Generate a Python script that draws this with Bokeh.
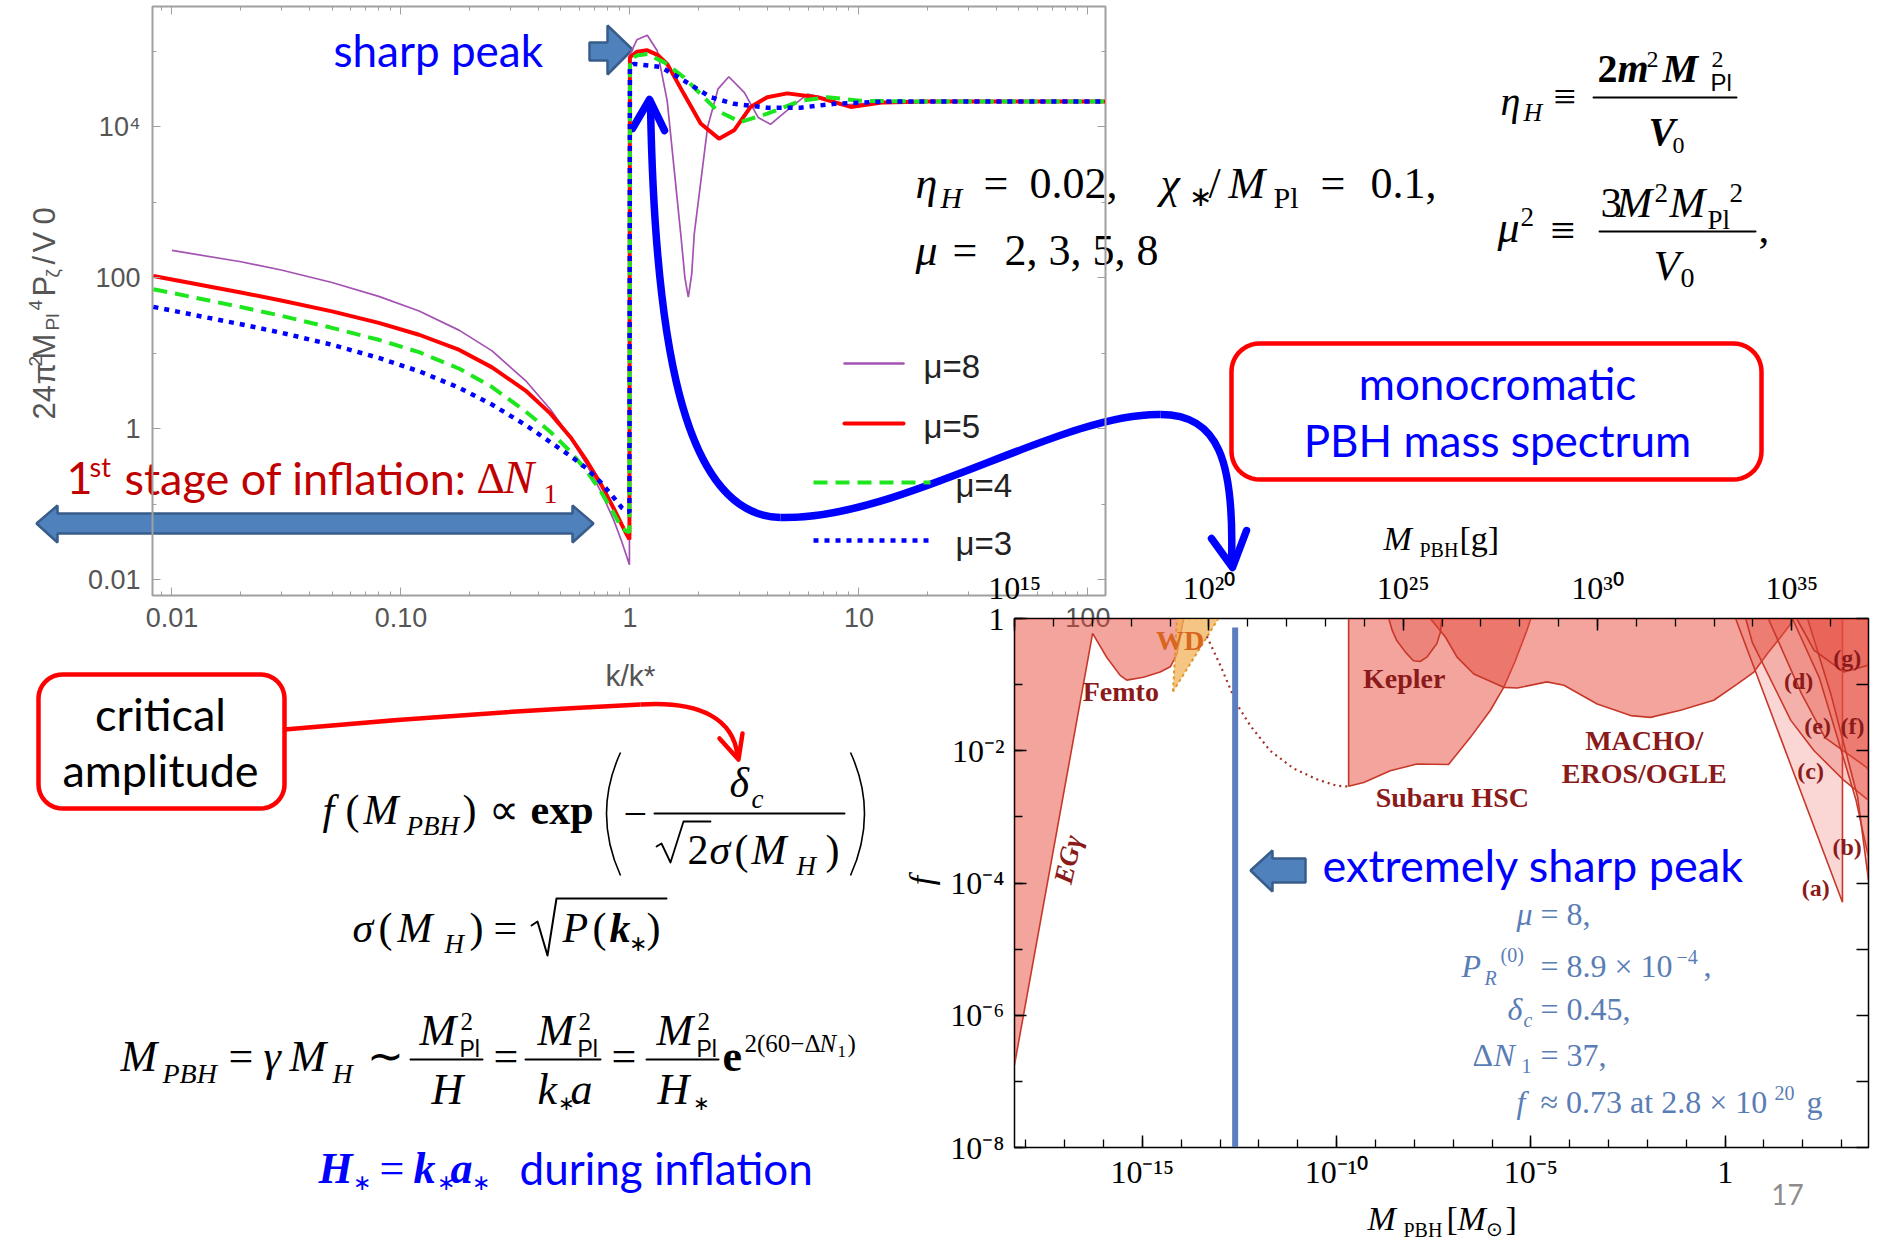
import numpy as np
from bokeh.plotting import figure
from bokeh.models import (Range1d, LogAxis, FixedTicker, CustomJSTickFormatter, GridBox)
from bokeh.layouts import column
from bokeh.embed import file_html
from bokeh.resources import INLINE
from bokeh.core.properties import value

# ---------------- data: top-left panel  (k/k*, 24 pi^2 Mpl^4 P_zeta / V0) ----------------
k_left = [0.0083, 0.01, 0.02, 0.03, 0.05, 0.08, 0.12, 0.18, 0.25, 0.35, 0.45, 0.55, 0.65, 0.75, 0.85, 0.92, 0.97, 0.995]
k8_left = [0.01, 0.02, 0.03, 0.05, 0.08, 0.12, 0.18, 0.25, 0.35, 0.45, 0.55, 0.65, 0.75, 0.85, 0.92, 0.97, 0.995]
P8_left = [229, 162, 126, 86, 56.4, 36.1, 20.0, 10.7, 4.33, 1.79, 0.759, 0.327, 0.143, 0.0614, 0.0322, 0.020, 0.0157]
P5_left = [104.7, 94.4, 63.5, 49.8, 35.7, 25.1, 17.5, 11.0, 6.47, 3.19, 1.58, 0.769, 0.367, 0.180, 0.0875, 0.054,
           0.0393, 0.0341]
P4_left = [70.2, 62.7, 40.7, 31.2, 21.6, 15.0, 10.3, 6.21, 3.55, 1.69, 0.904, 0.495, 0.270, 0.144, 0.0755, 0.0484,
           0.0436, 0.0425]
P3_left = [40.9, 36.6, 24.1, 18.6, 12.9, 8.63, 5.75, 3.47, 2.08, 1.117, 0.659, 0.433, 0.294, 0.191, 0.122, 0.0902,
           0.0811, 0.078]

k8_peak = [1.0, 1.072, 1.191, 1.318, 1.455, 1.667, 1.738, 1.799, 1.862, 1.910, 2.183, 2.427, 2.704, 3.162,
           3.631, 4.111, 4.786, 5.957, 7.079, 8.318, 10.0, 15.85, 120]
P8_peak = [89100, 141000, 162000, 100000, 21900, 380, 100, 55, 112, 380, 9770, 31600, 45700, 28200,
           13200, 10700, 15800, 26900, 24000, 19100, 20000, 21400, 21400]
k5_peak = [1.0, 1.072, 1.191, 1.318, 1.455, 1.722, 2.037, 2.449, 2.851, 3.365, 3.981, 4.864, 6.577, 9.204,
           12.82, 19.95, 120]
P5_peak = [83200, 97700, 102300, 89100, 67600, 26900, 11000, 6920, 8910, 18200, 24500, 27500, 24500, 18200,
           20900, 21400, 21400]
k4_peak = [1.0, 1.072, 1.191, 1.413, 1.722, 2.410, 3.041, 3.981, 5.559, 7.278, 10.16, 19.95, 120]
P4_peak = [75900, 87100, 91200, 70800, 44700, 16200, 11500, 14800, 21900, 24500, 21900, 21400, 21400]
k3_peak = [1.0, 1.04, 1.361, 1.722, 2.249, 2.851, 3.981, 5.559, 7.798, 12.59, 120]
P3_peak = [63100, 67600, 61700, 40700, 24500, 20000, 17800, 17800, 20000, 21400, 21400]

series_labels = ["μ=8", "μ=5", "μ=4", "μ=3"]
kx_ticks = [0.01, 0.1, 1, 10, 100]
py_ticks = [0.01, 1, 100, 1e4]

# ---------------- data: bottom-right panel (M_PBH [M_sun], f) ----------------
egf_M = [5.13e-19, 5.25e-17, 1.22e-16, 2.69e-16, 3.98e-16, 1.07e-15, 2.88e-15, 5.25e-15, 7.76e-15, 1.15e-14, 5.13e-19]
egf_f = [1.78e-7, 0.596, 0.257, 0.138, 0.117, 0.129, 0.155, 0.186, 0.288, 1.0, 1.0]
wd_M = [6.17e-15, 7.8e-15, 9.1e-14]
wd_f = [0.079, 1.0, 1.0]
hscdot_M = [4.57e-14, 1e-13, 2.69e-13, 6.0e-13, 1.95e-12, 7.8e-12, 3.1e-11, 1.02e-10, 2.04e-10]
hscdot_f = [0.537, 0.2, 0.051, 0.024, 0.01, 0.0054, 0.0037, 0.00295, 0.00288]
hsc_M = [2.04e-10, 5.0e-10, 2.4e-9, 1.17e-8, 7.6e-8, 2.75e-7, 9.1e-7, 2.0e-6, 3.98e-6, 7.9e-6, 1.0e-5, 2.04e-10]
hsc_f = [0.0029, 0.0033, 0.005, 0.0063, 0.0062, 0.0158, 0.041, 0.091, 0.23, 0.66, 1.0, 1.0]
kep_M = [2.2e-9, 2.7e-9, 3.5e-9, 5.9e-9, 9.5e-9, 1.41e-8, 2.1e-8, 3.1e-8, 3.8e-8, 4.7e-8, 5.1e-8]
kep_f = [1.0, 0.66, 0.47, 0.31, 0.23, 0.224, 0.26, 0.355, 0.417, 0.62, 1.0]
macho_M = [2.57e-8, 6.3e-8, 1.26e-7, 3.4e-7, 2.0e-6, 4.5e-6, 2.6e-5, 7.1e-5, 5.1e-4, 3.7e-3, 0.012, 0.071,
           0.51, 2.04, 5.5, 12.3, 26.9, 49, 53.7]
macho_f = [1.0, 0.525, 0.26, 0.145, 0.091, 0.089, 0.11, 0.098, 0.051, 0.034, 0.032, 0.041,
           0.058, 0.102, 0.155, 0.295, 0.525, 0.83, 1.0]
ra_M = [1.86, 1047, 1047]
ra_f = [1.0, 5.1e-5, 1.0]
rc_M = [3.39, 5.0, 49, 195, 1148, 4900, 4900]
rc_f = [1.0, 0.436, 0.0288, 0.01, 0.00355, 0.00178, 1.0]
rd_M = [12.9, 93, 372, 4365, 4900, 4900]
rd_f = [1.0, 0.0724, 0.0158, 0.00562, 0.005, 1.0]
rf_M = [53.7, 263, 776, 2344, 4677, 4900, 4900]
rf_f = [1.0, 0.129, 0.0158, 0.00178, 2.75e-4, 2.6e-4, 1.0]
rb_M = [132, 525, 2570, 4900, 4900]
rb_f = [1.0, 0.0724, 0.002, 1.1e-4, 1.0]
rg_M = [69, 195, 1148, 4571, 4900, 4900]
rg_f = [1.0, 0.331, 0.155, 0.195, 0.229, 1.0]
peak_M = [2.45e-13, 2.45e-13]
peak_f = [1e-8, 0.73]
LOG_GRAM_PER_MSUN = 33.285   # top axis: grams = M_sun * 10**33.285 (as drawn in the picture)

W, H = 1878, 1245

# ======================= A : full-window annotation canvas =======================
A = figure(width=W, height=H, x_range=Range1d(0, W), y_range=Range1d(H, 0),
           toolbar_location=None, output_backend="svg", min_border=0,
           x_axis_location=None, y_axis_location=None)
A.grid.visible = False
A.outline_line_color = None
A.background_fill_color = "white"
A.border_fill_color = "white"

SERIF = "Liberation Serif"
SANS = "Liberation Sans"
CAL = "Lato"
BLUE = "#0000FF"
DRED = "#C00000"
BASE_FIX = 0.3   # alphabetic-baseline correction (fraction of font size)


def T(s, x, y, size, color="black", font=SERIF, style="normal", align="left", base="alphabetic", angle=0, fig=None):
    if base == "alphabetic":
        if angle == 90:
            x -= BASE_FIX * size
        else:
            y -= BASE_FIX * size
    (fig or A).text(x=[x], y=[y], text=[s], text_font=value(font), text_font_size=value(f"{size}px"),
                    text_color=color, text_font_style=style, text_align=align, text_baseline=base,
                    angle=angle, angle_units="deg")


def L(xs, ys, color="black", w=2, dash="solid"):
    A.line(x=xs, y=ys, line_color=color, line_width=w, line_dash=dash, line_cap="round", line_join="round")


def rrect(x0, y0, x1, y1, r, n=12):
    xs, ys = [], []
    for cx, cy, a0 in [(x1 - r, y0 + r, -90), (x1 - r, y1 - r, 0), (x0 + r, y1 - r, 90), (x0 + r, y0 + r, 180)]:
        for a in np.linspace(a0, a0 + 90, n):
            xs.append(cx + r * np.cos(np.radians(a)))
            ys.append(cy + r * np.sin(np.radians(a)))
    return xs, ys

# --- block arrows
A.patch([589, 607, 607, 632, 607, 607, 589], [42, 42, 25, 49, 74, 60, 60],
        fill_color="#4F81BD", line_color="#385D8A", line_width=2.5)
A.patch([36, 57, 57, 572, 572, 593, 572, 572, 57, 57], [523, 505, 513, 513, 505, 523, 542, 533, 533, 542],
        fill_color="#4F81BD", line_color="#385D8A", line_width=2.5)
A.patch([1250, 1272, 1272, 1305, 1305, 1272, 1272], [870, 850, 858, 858, 882, 882, 891],
        fill_color="#4F81BD", line_color="#385D8A", line_width=2.5)

# --- slide texts
T("sharp peak", 333, 63, 44, BLUE, CAL)
T("1", 66, 491, 45, DRED, CAL)
T("st", 89, 474, 27, DRED, CAL)
T("stage of inflation:", 124, 491, 45, DRED, CAL)
T("Δ", 476, 491, 44, DRED, SERIF)
T("N", 503, 491, 46, DRED, SERIF, "italic")
T("1", 543, 502, 28, DRED, SERIF)

T("extremely sharp peak", 1322, 878, 45, BLUE, CAL)
T("17", 1787, 1194, 28, "#8C8C8C", CAL, align="center", base="middle")

xs, ys = rrect(1231, 343, 1761, 479, 28)
A.patch(xs, ys, fill_color=None, line_color="#FF0000", line_width=4.5)
T("monocromatic", 1497, 396, 44, BLUE, CAL, align="center")
T("PBH mass spectrum", 1497, 453, 44, BLUE, CAL, align="center")

xs, ys = rrect(38, 674, 284, 808, 24)
A.patch(xs, ys, fill_color=None, line_color="#FF0000", line_width=4.5)
T("critical", 160, 727, 45, "black", CAL, align="center")
T("amplitude", 160, 783, 45, "black", CAL, align="center")

A.quadratic(x0=[284], y0=[729], x1=[640], y1=[704], cx=[460], cy=[713], line_color="#FF0000", line_width=4.5)
A.bezier(x0=[640], y0=[704], x1=[737], y1=[755], cx0=[702], cy0=[700], cx1=[733], cy1=[720],
         line_color="#FF0000", line_width=4.5)
L([719, 738, 742], [738, 759, 733], "#FF0000", 4.5)

for (x0, y0, c0x, c0y, c1x, c1y, x1, y1) in [(650, 104, 654, 330, 680, 515, 780, 517),
                                              (780, 517, 900, 520, 1060, 412, 1160, 414),
                                              (1160, 414, 1218, 414, 1234, 460, 1231, 562)]:
    A.bezier(x0=[x0], y0=[y0], x1=[x1], y1=[y1], cx0=[c0x], cy0=[c0y], cx1=[c1x], cy1=[c1y],
             line_color=BLUE, line_width=7.5)
L([632, 649, 664], [128, 99, 130], BLUE, 7.5)
L([1211, 1232, 1246], [538, 567, 530], BLUE, 7.5)

# --- top-right definitions
T("η", 1500, 113, 40, "black", SERIF, "italic")
T("H", 1523, 120, 26, "black", SERIF, "italic")
T("≡", 1553, 108, 40)
L([1593, 1736], [97, 97], "black", 2)
T("2", 1597, 80, 40, "black", SERIF, "bold")
T("m", 1617, 80, 40, "black", SERIF, "bold italic")
T("2", 1646, 66, 24)
T("M", 1662, 80, 40, "black", SERIF, "bold italic")
T("2", 1711, 66, 24)
T("Pl", 1710, 89, 24, "black", SANS)
T("V", 1648, 143, 40, "black", SERIF, "bold italic")
T("0", 1672, 152, 24)

T("μ", 1497, 240, 44, "black", SERIF, "italic")
T("2", 1520, 225, 27)
T("≡", 1550, 243, 44)
L([1599, 1755], [231, 231], "black", 2)
T("3", 1600, 215, 43)
T("M", 1616, 215, 43, "black", SERIF, "italic")
T("2", 1654, 201, 27)
T("M", 1669, 215, 43, "black", SERIF, "italic")
T("2", 1729, 201, 27)
T("Pl", 1707, 228, 27)
T("V", 1653, 278, 43, "black", SERIF, "italic")
T("0", 1680, 286, 28)
T(",", 1758, 240, 43)

T("η", 915, 196, 44, "black", SERIF, "italic")
T("H", 940, 206, 30, "black", SERIF, "italic")
T("=", 983, 196, 44)
T("0.02,", 1029, 196, 44)
T("χ", 1160, 196, 44, "black", SERIF, "italic")
T("∗", 1188, 204, 28)
T("/", 1208, 196, 44)
T("M", 1228, 196, 44, "black", SERIF, "italic")
T("Pl", 1273, 206, 30)
T("=", 1320, 196, 44)
T("0.1,", 1370, 196, 44)
T("μ", 915, 263, 44, "black", SERIF, "italic")
T("=", 952, 263, 44)
T("2, 3, 5, 8", 1004, 263, 44)

# --- lower-left formulas
T("f", 322, 822, 42, "black", SERIF, "italic")
T("(", 345, 822, 42)
T("M", 363, 822, 42, "black", SERIF, "italic")
T("PBH", 406, 834, 27, "black", SERIF, "italic")
T(")", 462, 822, 42)
T("∝", 488, 822, 42)
T("exp", 530, 822, 42, "black", SERIF, "bold")
A.quadratic(x0=[620], y0=[752], x1=[620], y1=[875], cx=[592], cy=[813], line_color="black", line_width=1.6)
A.quadratic(x0=[850], y0=[752], x1=[850], y1=[875], cx=[878], cy=[813], line_color="black", line_width=1.6)
T("−", 623, 826, 42)
L([654, 844], [813, 813], "black", 2)
T("δ", 729, 795, 42, "black", SERIF, "italic")
T("c", 751, 807, 27, "black", SERIF, "italic")
L([656, 661, 670, 683, 710], [846, 843, 862, 821, 821], "black", 1.8)
T("2", 687, 862, 42)
T("σ", 709, 862, 42, "black", SERIF, "italic")
T("(", 734, 862, 42)
T("M", 751, 862, 42, "black", SERIF, "italic")
T("H", 796, 874, 27, "black", SERIF, "italic")
T(")", 825, 862, 42)

T("σ", 352, 940, 42, "black", SERIF, "italic")
T("(", 378, 940, 42)
T("M", 397, 940, 42, "black", SERIF, "italic")
T("H", 444, 952, 27, "black", SERIF, "italic")
T(")", 469, 940, 42)
T("=", 493, 940, 42)
L([531, 537, 547, 556, 666], [925, 921, 955, 898, 898], "black", 2)
T("P", 562, 940, 42, "black", SERIF, "italic")
T("(", 592, 940, 42)
T("k", 609, 940, 42, "black", SERIF, "bold italic")
T("∗", 628, 950, 22)
T(")", 646, 940, 42)

T("M", 120, 1069, 44, "black", SERIF, "italic")
T("PBH", 162, 1081, 28, "black", SERIF, "italic")
T("=", 228, 1069, 44)
T("γ", 263, 1069, 44, "black", SERIF, "italic")
T("M", 289, 1069, 44, "black", SERIF, "italic")
T("H", 332, 1081, 28, "black", SERIF, "italic")
T("∼", 366, 1069, 44)
for (bx0, bx1, mx) in [(410, 482, 419), (525, 600, 537), (646, 718, 656)]:
    L([bx0, bx1], [1059, 1059], "black", 2)
    T("M", mx, 1043, 44, "black", SERIF, "italic")
    T("2", mx + 41, 1028, 25)
    T("Pl", mx + 40, 1055, 23, "black", SANS)
T("H", 431, 1102, 44, "black", SERIF, "italic")
T("=", 493, 1069, 44)
T("k", 537, 1102, 44, "black", SERIF, "italic")
T("∗", 557, 1108, 20)
T("a", 570, 1102, 44, "black", SERIF, "italic")
T("=", 611, 1069, 44)
T("H", 657, 1102, 44, "black", SERIF, "italic")
T("∗", 692, 1108, 20)
T("e", 722, 1069, 44, "black", SERIF, "bold")
T("2(60−Δ", 744, 1050, 25)
T("N", 819, 1050, 25, "black", SERIF, "italic")
T("1", 837, 1056, 17)
T(")", 847, 1050, 25)

T("H", 318, 1181, 44, BLUE, SERIF, "bold italic")
T("∗", 352, 1189, 22, BLUE)
T("=", 379, 1181, 44, BLUE)
T("k", 413, 1181, 44, BLUE, SERIF, "bold italic")
T("∗", 436, 1189, 22, BLUE)
T("a", 450, 1181, 44, BLUE, SERIF, "bold italic")
T("∗", 471, 1189, 22, BLUE)
T("during inflation", 519, 1181, 44, BLUE, CAL)

# --- axis labels (composed math text)
GR = "#555555"
T("k/k*", 630, 675, 30, GR, SANS, align="center", base="middle")
for (s, yy, sz, xb) in [("24", 419, 31, 53), ("π", 384, 31, 53), ("2", 366, 19, 41), ("M", 359, 31, 53),
                        ("Pl", 330, 19, 58), ("4", 310, 19, 41), ("P", 296, 31, 53), ("ζ", 277, 19, 58),
                        ("/", 264, 31, 53), ("V", 252, 31, 53), ("0", 224, 31, 53)]:
    T(s, xb, yy, sz, GR, SANS, angle=90)

T("M", 1383, 548, 34, "black", SERIF, "italic")
T("PBH", 1419, 555, 20)
T("[g]", 1459, 548, 34)
T("M", 1367, 1228, 34, "black", SERIF, "italic")
T("PBH", 1403, 1235, 20)
T("[", 1446, 1228, 34)
T("M", 1457, 1228, 34, "black", SERIF, "italic")
T("⊙", 1485, 1234, 20)
T("]", 1505, 1228, 34)
T("f", 921, 880, 34, "black", SERIF, "italic", align="center", base="middle", angle=90)

# --- parameter block in the lower-right panel
PB = "#5A7DB5"
T("μ", 1516, 923, 32, PB, SERIF, "italic")
T("= 8,", 1540, 923, 32, PB)
T("P", 1461, 975, 32, PB, SERIF, "italic")
T("R", 1484, 983, 20, PB, SERIF, "italic")
T("(0)", 1500, 960, 20, PB)
T("= 8.9 × 10", 1540, 975, 32, PB)
T("−4", 1676, 962, 20, PB)
T(",", 1703, 975, 32, PB)
T("δ", 1507, 1018, 32, PB, SERIF, "italic")
T("c", 1523, 1025, 20, PB, SERIF, "italic")
T("= 0.45,", 1540, 1018, 32, PB)
T("Δ", 1472, 1064, 32, PB)
T("N", 1493, 1064, 32, PB, SERIF, "italic")
T("1", 1521, 1071, 20, PB)
T("= 37,", 1540, 1064, 32, PB)
T("f", 1516, 1111, 32, PB, SERIF, "italic")
T("≈ 0.73 at 2.8 × 10", 1540, 1111, 32, PB)
T("20", 1774, 1098, 20, PB)
T("g", 1806, 1111, 32, PB)

# --- legend of the top-left panel (key lines + labels)
L([844, 903], [363, 363], "#A452B2", 2.5)
L([844, 903], [423, 423], "#FF0000", 4)
A.line(x=[813, 930], y=[482, 482], line_color="#1EE61E", line_width=4, line_dash="14 8")
A.line(x=[813, 930], y=[540, 540], line_color="#0000FF", line_width=4.5, line_dash="5 6")
for lab, lx, ly in zip(series_labels, [923, 923, 955, 955], [366, 426, 485, 543]):
    T(lab, lx, ly, 33, "#222222", SANS, base="middle")

# ======================= B : top-left spectrum panel =======================
B = figure(width=1120, height=720, x_axis_type="log", y_axis_type="log",
           x_range=Range1d(10 ** -2.085, 10 ** 2.077), y_range=Range1d(10 ** -2.21, 10 ** 5.59),
           toolbar_location=None, output_backend="svg",
           min_border_left=152, min_border_right=15, min_border_top=6, min_border_bottom=125)
B.background_fill_color = None
B.border_fill_color = None
B.outline_line_color = "#A0A0A0"
B.outline_line_width = 2
B.grid.visible = False

bx_minor = [m * 10.0 ** e for e in range(-3, 3) for m in range(2, 10)]
by_minor = [10.0 ** e for e in range(-3, 6)]
fmt_bx = CustomJSTickFormatter(code="""
const e = Math.round(Math.log10(tick));
const m = {"-2":"0.01","-1":"0.10","0":"1","1":"10","2":"100"};
return m[String(e)] || " ";""")
fmt_by = CustomJSTickFormatter(code="""
const e = Math.round(Math.log10(tick));
const m = {"-2":"0.01","0":"1","2":"100","4":"10\u2074"};
return m[String(e)] || " ";""")
B.xaxis.ticker = FixedTicker(ticks=kx_ticks, minor_ticks=bx_minor)
B.yaxis.ticker = FixedTicker(ticks=py_ticks, minor_ticks=by_minor)
B.xaxis.formatter = fmt_bx
B.yaxis.formatter = fmt_by
for ax in [B.xaxis[0], B.yaxis[0]]:
    ax.axis_line_color = "#A0A0A0"
    ax.major_tick_line_color = "#A0A0A0"
    ax.minor_tick_line_color = "#A0A0A0"
    ax.major_tick_in = 8
    ax.major_tick_out = 0
    ax.minor_tick_in = 4
    ax.minor_tick_out = 0
    ax.major_label_text_font = SANS
    ax.major_label_text_font_size = "27px"
    ax.major_label_text_color = GR
B.xaxis.major_label_standoff = 12
B.yaxis.major_label_standoff = 12
for loc, tk in [("above", FixedTicker(ticks=kx_ticks, minor_ticks=bx_minor)),
                ("right", FixedTicker(ticks=py_ticks, minor_ticks=by_minor))]:
    ax = LogAxis(ticker=tk, major_label_text_font_size="1px", major_label_text_alpha=0, major_label_standoff=0,
                 axis_line_color="#A0A0A0", major_tick_line_color="#A0A0A0", minor_tick_line_color="#A0A0A0",
                 major_tick_in=8, major_tick_out=0, minor_tick_in=4, minor_tick_out=0)
    B.add_layout(ax, loc)

B.line(k8_left + k8_peak, P8_left + P8_peak, line_color="#A452B2", line_width=1.7)
B.line(k_left + k5_peak, P5_left + P5_peak, line_color="#FF0000", line_width=4)
B.line(k_left + k4_peak, P4_left + P4_peak, line_color="#1EE61E", line_width=4, line_dash="14 8")
B.line(k_left + k3_peak, P3_left + P3_peak, line_color="#0000FF", line_width=4.5, line_dash="5 6")

# ======================= C : bottom-right constraints panel =======================
C = figure(width=W, height=H, x_axis_type="log", y_axis_type="log",
           x_range=Range1d(10 ** -18.29, 10 ** 3.69), y_range=Range1d(1e-8, 1),
           toolbar_location=None, output_backend="svg",
           min_border_left=1014, min_border_right=10, min_border_top=618, min_border_bottom=98)
C.background_fill_color = None
C.border_fill_color = None
C.outline_line_color = "black"
C.outline_line_width = 1.5
C.grid.visible = False

fmt_c = CustomJSTickFormatter(code="""
const e = Math.round(Math.log10(tick));
if (e === 0) { return "1"; }
const m = {"0":"\u2070","1":"\u00b9","2":"\u00b2","3":"\u00b3","4":"\u2074","5":"\u2075","6":"\u2076","7":"\u2077","8":"\u2078","9":"\u2079","-":"\u207b"};
return "10" + String(e).split("").map(c => m[c]).join("");""")
fmt_g = CustomJSTickFormatter(args=dict(off=LOG_GRAM_PER_MSUN), code="""
const e = Math.round(Math.log10(tick) + off);
const m = {"0":"\u2070","1":"\u00b9","2":"\u00b2","3":"\u00b3","4":"\u2074","5":"\u2075","6":"\u2076","7":"\u2077","8":"\u2078","9":"\u2079","-":"\u207b"};
return "10" + String(e).split("").map(c => m[c]).join("");""")


def style_c(ax, standoff, fmt):
    ax.axis_line_color = "black"
    ax.major_tick_line_color = "black"
    ax.minor_tick_line_color = "black"
    ax.major_tick_in = 12
    ax.major_tick_out = 0
    ax.minor_tick_in = 8
    ax.minor_tick_out = 0
    ax.major_tick_line_width = 1.5
    ax.minor_tick_line_width = 1.3
    ax.major_label_text_font = SERIF
    ax.major_label_text_font_size = "32px"
    ax.major_label_text_color = "black"
    ax.major_label_standoff = standoff
    ax.formatter = fmt


C.xaxis.ticker = FixedTicker(ticks=[1e-15, 1e-10, 1e-5, 1], minor_ticks=[10.0 ** e for e in range(-18, 4)])
C.yaxis.ticker = FixedTicker(ticks=[1e-8, 1e-6, 1e-4, 1e-2, 1], minor_ticks=[10.0 ** e for e in range(-8, 1)])
style_c(C.xaxis[0], 6, fmt_c)
style_c(C.yaxis[0], 10, fmt_c)
gram_major = [10.0 ** (n - LOG_GRAM_PER_MSUN) for n in (15, 20, 25, 30, 35)]
gram_minor = [10.0 ** (n - LOG_GRAM_PER_MSUN) for n in range(15, 37)]
topax = LogAxis(ticker=FixedTicker(ticks=gram_major, minor_ticks=gram_minor))
style_c(topax, 13, fmt_g)
C.add_layout(topax, "above")
rax = LogAxis(ticker=FixedTicker(ticks=[10.0 ** e for e in range(-8, 1)]), major_label_text_font_size="1px",
              major_label_text_alpha=0, major_label_standoff=0, major_tick_in=12, major_tick_out=0,
              minor_tick_out=0, major_tick_line_width=1.5)
C.add_layout(rax, "right")

PINK = "#E64A3C"
EDGE = "#C8382A"
C.patch(egf_M, egf_f, fill_color=PINK, fill_alpha=0.5, line_color=EDGE, line_width=1.6)
C.patch(hsc_M, hsc_f, fill_color=PINK, fill_alpha=0.5, line_color=EDGE, line_width=1.6)
C.patch(macho_M, macho_f, fill_color=PINK, fill_alpha=0.5, line_color=EDGE, line_width=1.6)
C.patch(kep_M, kep_f, fill_color=PINK, fill_alpha=0.35, line_color=EDGE, line_width=1.6)
C.patch(ra_M, ra_f, fill_color=PINK, fill_alpha=0.22, line_color=EDGE, line_width=1.6)
for mm, ff in [(rc_M, rc_f), (rd_M, rd_f), (rf_M, rf_f), (rb_M, rb_f), (rg_M, rg_f)]:
    C.patch(mm, ff, fill_color=PINK, fill_alpha=0.28, line_color=EDGE, line_width=1.6)
C.patch(wd_M, wd_f, fill_color="#F2B35A", fill_alpha=0.75, line_color="#E0962A", line_width=2, line_dash="3 3")
C.line(hscdot_M, hscdot_f, line_color="#A0302A", line_width=2.2, line_dash="2 4")
C.line(peak_M, peak_f, line_color="#5A7EBE", line_width=6)

LBL = "#8B1A1A"
for (txt, mx, fy, sz, col, sty, ang) in [
        ("Femto", 2.8e-16, 0.079, 28, LBL, "bold", 0), ("WD", 9.4e-15, 0.465, 28, "#D9661F", "bold", 0),
        ("EGγ", 1.22e-17, 2.26e-4, 27, LBL, "bold italic", 77), ("Kepler", 5.5e-9, 0.124, 28, LBL, "bold", 0),
        ("Subaru HSC", 9.5e-8, 0.00196, 28, LBL, "bold", 0), ("MACHO/", 8.3e-3, 0.01426, 28, LBL, "bold", 0),
        ("EROS/OGLE", 8.3e-3, 0.00452, 28, LBL, "bold", 0), ("(g)", 1380, 0.257, 24, LBL, "bold", 0),
        ("(d)", 77.6, 0.115, 24, LBL, "bold", 0), ("(e)", 240, 0.024, 24, LBL, "bold", 0),
        ("(f)", 1905, 0.024, 24, LBL, "bold", 0), ("(c)", 158, 0.005, 24, LBL, "bold", 0),
        ("(b)", 1380, 3.46e-4, 24, LBL, "bold", 0), ("(a)", 214, 8.5e-5, 24, LBL, "bold", 0)]:
    T(txt, mx, fy, sz, col, SERIF, sty, align="center", base="middle", angle=ang, fig=C)

# overlay the three canvases in one grid cell (each wrapped so frames are not aligned to each other)
layout = GridBox(children=[(column(A), 0, 0), (column(B), 0, 0), (column(C), 0, 0)])
open("out.html", "w").write(file_html(layout, INLINE))
